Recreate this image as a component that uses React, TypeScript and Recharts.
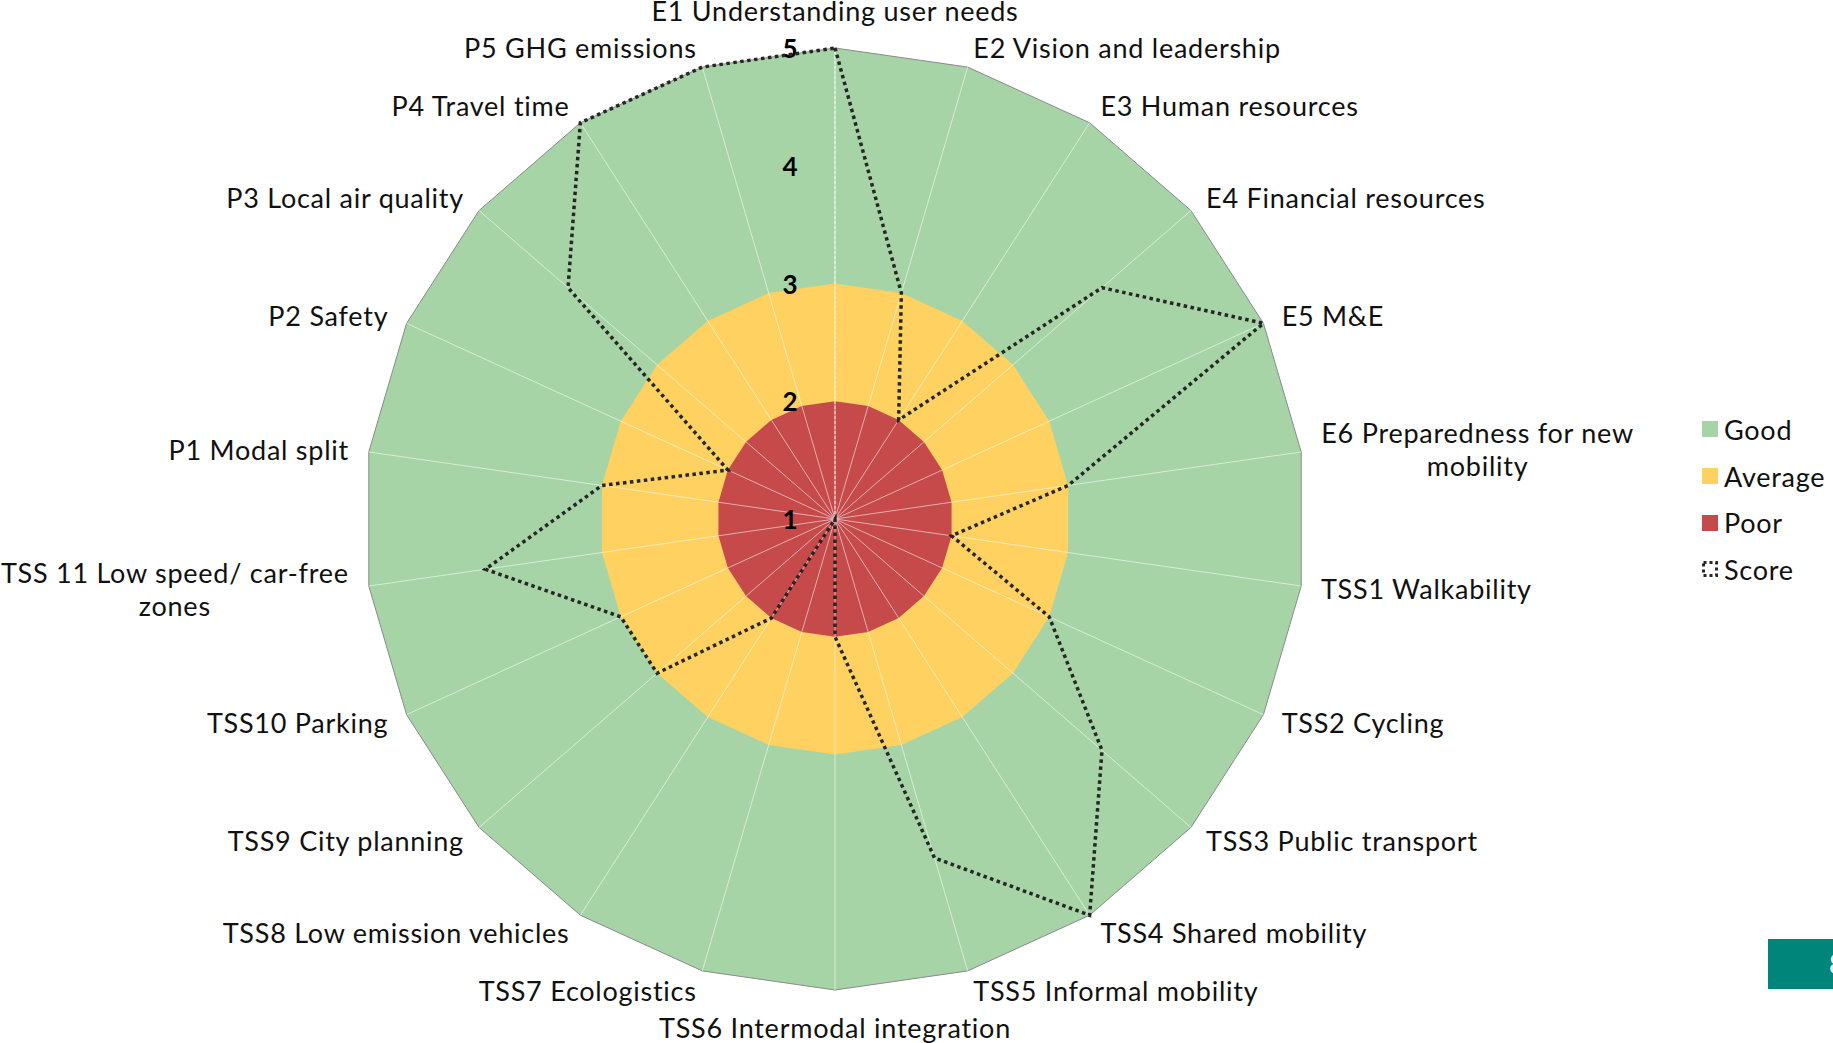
import React from 'react';
import { RadarChart, Radar, PolarGrid, PolarAngleAxis, PolarRadiusAxis, Legend } from 'recharts';

const categories = [
  'E1 Understanding user needs',
  'E2 Vision and leadership',
  'E3 Human resources',
  'E4 Financial resources',
  'E5 M&E',
  'E6 Preparedness for new mobility',
  'TSS1 Walkability',
  'TSS2 Cycling',
  'TSS3 Public transport',
  'TSS4 Shared mobility',
  'TSS5 Informal mobility',
  'TSS6 Intermodal integration',
  'TSS7 Ecologistics',
  'TSS8 Low emission vehicles',
  'TSS9 City planning',
  'TSS10 Parking',
  'TSS 11 Low speed/ car-free zones',
  'P1 Modal split',
  'P2 Safety',
  'P3 Local air quality',
  'P4 Travel time',
  'P5 GHG emissions',
];

const goodValues = [5, 5, 5, 5, 5, 5, 5, 5, 5, 5, 5, 5, 5, 5, 5, 5, 5, 5, 5, 5, 5, 5];
const averageValues = [3, 3, 3, 3, 3, 3, 3, 3, 3, 3, 3, 3, 3, 3, 3, 3, 3, 3, 3, 3, 3, 3];
const poorValues = [2, 2, 2, 2, 2, 2, 2, 2, 2, 2, 2, 2, 2, 2, 2, 2, 2, 2, 2, 2, 2, 2];
const scoreValues = [5, 3, 2, 4, 5, 3, 2, 3, 4, 5, 4, 2, 1, 2, 3, 3, 4, 3, 2, 4, 5, 5];

const radiusTicks = [1, 2, 3, 4, 5];

const legendNames = ['Good', 'Average', 'Poor', 'Score'];
const legendColors = ['#a6d4a6', '#fed160', '#c64a4a', '#262626'];

const labelLines: Record<string, string[]> = {
  'E6 Preparedness for new mobility': ['E6 Preparedness for new', 'mobility'],
  'TSS 11 Low speed/ car-free zones': ['TSS 11 Low speed/ car-free', 'zones'],
};

const data = categories.map((c, i) => ({
  category: c,
  good: goodValues[i],
  average: averageValues[i],
  poor: poorValues[i],
  score: scoreValues[i],
}));

const W = 1833;
const H = 1043;
const CX = 835;
const CY = 519;
const R = 471;
const FONT = 'Lato, "Open Sans", sans-serif';
const LABEL_SIZE = 27;
const LETTER = 0.75;
const LINE_H = 33;

let measureCtx: CanvasRenderingContext2D | null = null;
function measure(text: string): number {
  if (!measureCtx) {
    const c = document.createElement('canvas');
    measureCtx = c.getContext('2d');
  }
  if (!measureCtx) return text.length * 13;
  measureCtx.font = `${LABEL_SIZE}px Lato`;
  return measureCtx.measureText(text).width + LETTER * text.length;
}

const AngleTick = (props: any) => {
  const { payload } = props;
  const value = payload.value as string;
  const i = categories.indexOf(value);
  const theta = (i * 2 * Math.PI) / categories.length;
  const s = Math.sin(theta);
  const c = Math.cos(theta);
  const px = CX + (R + 20) * s;
  const py = CY - (R + 20) * c;
  const lines = labelLines[value] ?? [value];
  let centerY = py;
  if (Math.abs(s) < 0.01) centerY = py + (c > 0 ? -17.5 : 17.5);
  const firstY = centerY - ((lines.length - 1) * LINE_H) / 2;
  if (lines.length === 1) {
    const anchor = Math.abs(s) < 0.01 ? 'middle' : s > 0 ? 'start' : 'end';
    return (
      <text x={px} y={centerY} textAnchor={anchor} dominantBaseline="central" fontFamily={FONT} fontSize={LABEL_SIZE} letterSpacing={LETTER} fill="#111">
        {value}
      </text>
    );
  }
  const w = Math.max(...lines.map(measure));
  const midX = s > 0 ? px + w / 2 : px - w / 2;
  return (
    <text textAnchor="middle" fontFamily={FONT} fontSize={LABEL_SIZE} letterSpacing={LETTER} fill="#111">
      {lines.map((l, k) => (
        <tspan key={k} x={midX} y={firstY + k * LINE_H} dominantBaseline="central">
          {l}
        </tspan>
      ))}
    </text>
  );
};

const RadiusTick = (props: any) => {
  const { x, y, payload } = props;
  return (
    <text x={x - 45} y={y} textAnchor="middle" dominantBaseline="central" fontFamily={FONT} fontWeight={700} fontSize={26} fill="#000">
      {payload.value}
    </text>
  );
};

const LegendContent = () => {
  return (
    <div style={{ fontFamily: FONT, fontSize: LABEL_SIZE, letterSpacing: LETTER, color: '#111' }}>
      {legendNames.map((name, k) => (
        <div key={name} style={{ height: 46.7, display: 'flex', alignItems: 'center' }}>
          <svg width={16} height={16} style={{ marginRight: 6 }}>
            {name === 'Score' ? (
              <rect x={1.5} y={1.5} width={13} height={13} fill="none" stroke={legendColors[k]} strokeWidth={3} strokeDasharray="3 3" />
            ) : (
              <rect x={0} y={0} width={16} height={16} fill={legendColors[k]} />
            )}
          </svg>
          <span>{name}</span>
        </div>
      ))}
    </div>
  );
};

export default function App() {
  return (
    <div style={{ position: 'absolute', left: 0, top: 0, width: W, height: H, background: '#fff', overflow: 'hidden' }}>
      <RadarChart width={W} height={H} data={data} cx={CX} cy={CY} outerRadius={R} startAngle={90} endAngle={-270}>
        <PolarAngleAxis dataKey="category" tick={<AngleTick />} tickLine={false} axisLine={false} />
        <PolarRadiusAxis
          angle={90}
          domain={[1, 5]}
          ticks={radiusTicks}
          tickCount={5}
          tick={<RadiusTick />}
          tickLine={false}
          axisLine={{ stroke: '#ffffff', strokeDasharray: '3 2', strokeOpacity: 0.8 }}
        />
        <Radar name="Good" dataKey="good" fill={legendColors[0]} fillOpacity={1} stroke="#8a8a8a" strokeWidth={1} isAnimationActive={false} dot={false} />
        <Radar name="Average" dataKey="average" fill={legendColors[1]} fillOpacity={1} stroke="none" isAnimationActive={false} dot={false} />
        <Radar name="Poor" dataKey="poor" fill={legendColors[2]} fillOpacity={1} stroke="none" isAnimationActive={false} dot={false} />
        <PolarGrid gridType="polygon" polarRadius={[0]} stroke="#ffffff" strokeOpacity={0.55} strokeWidth={1} {...({ zIndex: 150 } as any)} />
        <Radar name="Score" dataKey="score" fill="none" fillOpacity={0} stroke={legendColors[3]} strokeWidth={3.5} strokeDasharray="3.5 3.5" isAnimationActive={false} dot={false} {...({ zIndex: 700 } as any)} />
        <Legend content={<LegendContent />} wrapperStyle={{ position: 'absolute', left: 1702, top: 406, width: 131 }} />
      </RadarChart>
      <div style={{ position: 'absolute', left: 1768, top: 939, width: 80, height: 50, background: '#00857a', color: '#fff', fontFamily: FONT, fontSize: 26, lineHeight: '50px', paddingLeft: 61, boxSizing: 'border-box' }}>
        8
      </div>
    </div>
  );
}
